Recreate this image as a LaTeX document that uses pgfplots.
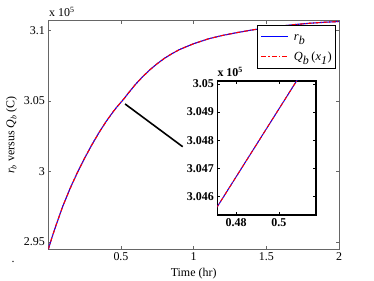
\documentclass[border=0pt]{standalone}
\usepackage{fontspec}
\setmainfont{Liberation Serif}
\usepackage{pgfplots}
\pgfplotsset{compat=1.18}
\usepackage{pgfplotstable}
% values in units of 10^5 C
\pgfplotstableread{
t y
0.000 2.9449
0.025 2.9532
0.050 2.9610
0.100 2.9755
0.150 2.9880
0.200 2.9993
0.250 3.0095
0.300 3.0190
0.350 3.0278
0.400 3.0358
0.450 3.0429
0.470 3.0455
0.480 3.0467
0.490 3.0479
0.500 3.0491
0.510 3.0503
0.520 3.0515
0.550 3.0555
0.600 3.0618
0.650 3.0673
0.700 3.0722
0.750 3.0765
0.800 3.0803
0.850 3.0835
0.900 3.0863
0.950 3.0885
1.000 3.0906
1.100 3.0940
1.200 3.0965
1.300 3.0985
1.400 3.1003
1.500 3.1018
1.600 3.1031
1.700 3.1042
1.800 3.1051
1.900 3.1058
2.000 3.1063
}\rdata
\pgfplotstableread{
t y
0.000 2.9449
0.025 2.9532
0.050 2.9610
0.100 2.9755
0.150 2.9880
0.200 2.9993
0.250 3.0095
0.300 3.0190
0.350 3.0278
0.400 3.0358
0.450 3.0429
0.470 3.0455
0.480 3.0467
0.490 3.0479
0.500 3.0491
0.510 3.0503
0.520 3.0515
0.550 3.0555
0.600 3.0618
0.650 3.0673
0.700 3.0722
0.750 3.0765
0.800 3.0803
0.850 3.0835
0.900 3.0863
0.950 3.0885
1.000 3.0906
1.100 3.0940
1.200 3.0965
1.300 3.0985
1.400 3.1003
1.500 3.1018
1.600 3.1031
1.700 3.1042
1.800 3.1051
1.900 3.1058
2.000 3.1063
}\qdata
\begin{document}
\begin{tikzpicture}
\useasboundingbox (-48.3bp,-31.7bp) rectangle (325.7bp,249.3bp);
\begin{axis}[
  at={(0,0)}, anchor=south west, scale only axis,
  width=290.7bp, height=228.6bp,
  xmin=0, xmax=2, ymin=2.9449, ymax=3.1069,
  xtick={0.5,1,1.5,2}, ytick={2.95,3,3.05,3.1},
  scaled ticks=false,
  tick align=inside,
  major tick length=3bp,
  axis line style={black!60, line width=0.5bp},
  every tick/.style={black!60, line width=0.5bp},
  /pgf/number format/assume math mode=true,
  ticklabel style={font=\fontsize{12}{14}\selectfont},
  xlabel={Time (hr)},
  ylabel={\textit{r}\textsubscript{\textit{b}} versus \textit{Q}\textsubscript{\textit{b}} (C)},
  label style={font=\fontsize{12}{14}\selectfont},
]
\addplot[draw=blue, line width=1.1bp] table[x=t,y=y] {\rdata};
\addplot[draw=red, line width=1.1bp, dash pattern=on 4bp off 1.5bp on 1bp off 1.5bp] table[x=t,y=y] {\qdata};
\draw[line width=1.6bp] (axis cs:0.528,3.0479) -- (axis cs:0.9247,3.0176);
\end{axis}
% legend
\node[draw=black, line width=0.5bp, fill=white, anchor=north east, inner xsep=3bp, inner ysep=1bp,
  font=\fontsize{12.5}{14}\selectfont] at (286.7bp,224.3bp) {%
  \begin{tabular}{@{}l@{\hspace{5bp}}l@{}}
  \tikz[baseline=-3.5bp]\draw[draw=blue, line width=1.3bp] (0bp,0bp) -- (27bp,0bp); &
  \rule[-7bp]{0pt}{21bp}\textit{r}\textsubscript{\large\textit{b}}\\
  \tikz[baseline=-3.5bp]\draw[draw=red, line width=1.3bp, dash pattern=on 5bp off 2bp on 1.5bp off 2bp] (0bp,0bp) -- (27bp,0bp); &
  \rule[-7bp]{0pt}{20bp}\textit{Q}\textsubscript{\large\textit{b}}\,(\textit{x}\textsubscript{\large\textit{1}})
  \end{tabular}};
\node[anchor=base west, font=\fontsize{12}{14}\selectfont, inner sep=0] at (0.7bp,232.6bp) {x 10\textsuperscript{5}};
\node[anchor=base, font=\fontsize{12}{14}\selectfont, inner sep=0] at (-35.3bp,-13.2bp) {.};
\begin{axis}[
  at={(169bp,34.3bp)}, anchor=south west, scale only axis,
  width=98.4bp, height=134bp,
  xmin=0.4712, xmax=0.5173, ymin=3.04535, ymax=3.0501,
  xtick={0.48,0.5}, ytick={3.046,3.047,3.048,3.049,3.05},
  scaled ticks=false,
  tick align=inside,
  major tick length=3bp,
  axis line style={black, line width=1.6bp},
  every tick/.style={black, line width=0.5bp},
  /pgf/number format/assume math mode=true,
  /pgf/number format/precision=3,
  ticklabel style={font=\fontsize{12}{14}\selectfont\bfseries},
  axis background/.style={fill=white},
]
\addplot[draw=blue, line width=1bp] table[x=t,y=y] {\rdata};
\addplot[draw=red, line width=1bp, dash pattern=on 4bp off 1.5bp on 1bp off 1.5bp] table[x=t,y=y] {\qdata};
\end{axis}
\node[anchor=base west, font=\fontsize{12}{14}\selectfont\bfseries, inner sep=0] at (169bp,172.6bp) {x 10\textsuperscript{5}};
\end{tikzpicture}
\end{document}
